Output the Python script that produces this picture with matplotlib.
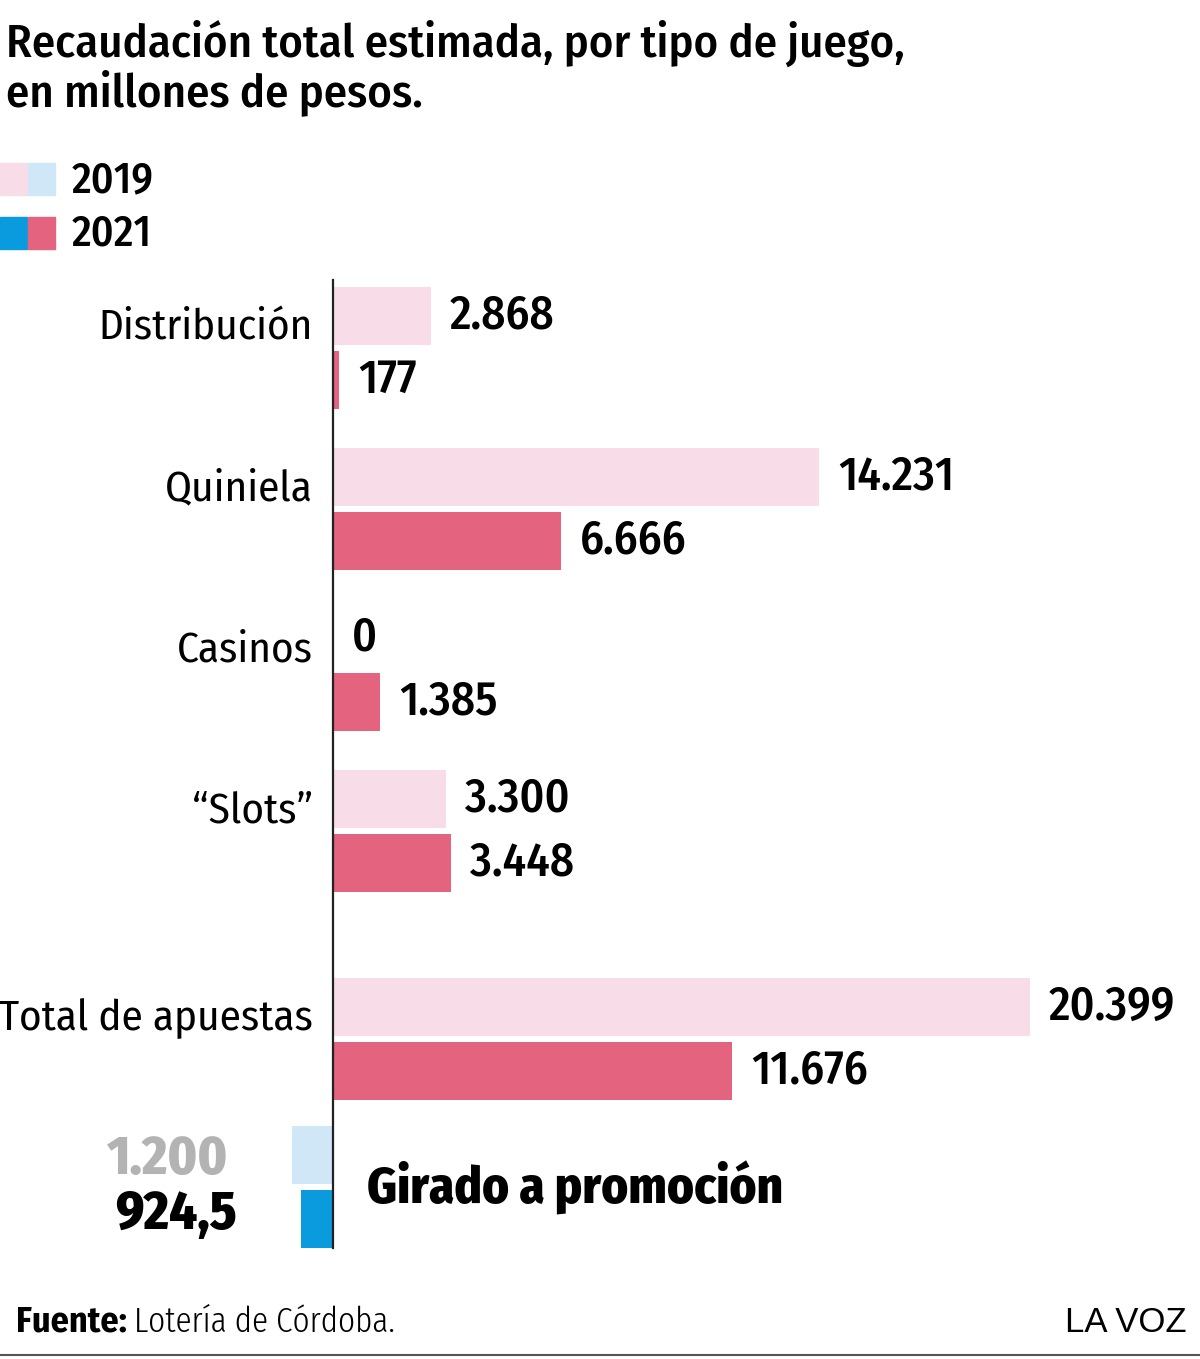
import matplotlib
matplotlib.use("Agg")
import matplotlib.pyplot as plt
from matplotlib.patches import Rectangle

W, H = 1200, 1359
FONT = ["Fira Sans Condensed", "DejaVu Sans"]
plt.rcParams["font.family"] = FONT

PINK_LIGHT, PINK = "#f8dde9", "#e4637f"
BLUE_LIGHT, BLUE = "#cfe7f7", "#0a9ade"

categories = ["Distribución", "Quiniela", "Casinos", "\u201cSlots\u201d", "Total de apuestas"]
vals_2019 = [2868, 14231, 0, 3300, 20399]
vals_2021 = [177, 6666, 1385, 3448, 11676]
labels_2019 = ["2.868", "14.231", "0", "3.300", "20.399"]
labels_2021 = ["177", "6.666", "1.385", "3.448", "11.676"]
promo_vals = [1200, 924.5]
promo_labels = ["1.200", "924,5"]

# layout (pixels)
AXIS_X = 333
SCALE = 697 / 20399          # px per million
group_y = [348, 509, 670, 831, 1039]
promo_y = 1187
OFF = 32
BH = 58

fig = plt.figure(figsize=(W / 100, H / 100), dpi=100)
ax = fig.add_axes([0, 0, 1, 1])
ax.set_xlim(-AXIS_X / SCALE, (W - AXIS_X) / SCALE)
ax.set_ylim(H, 0)
ax.axis("off")

def px(x, y):
    return x / W, 1 - y / H

y19 = [g - OFF for g in group_y]
y21 = [g + OFF for g in group_y]
ax.barh(y19, vals_2019, height=BH, color=PINK_LIGHT)
ax.barh(y21, vals_2021, height=BH, color=PINK)
ax.barh(promo_y - OFF, -promo_vals[0], height=BH, color=BLUE_LIGHT)
ax.barh(promo_y + OFF, -promo_vals[1], height=BH, color=BLUE)
ax.plot([0, 0], [280, 1248], color="#222222", lw=1.6)

pad = 19 / SCALE
for y, v, t in zip(y19, vals_2019, labels_2019):
    ax.text(v + pad, y, t, fontsize=34, fontweight=500, va="center", ha="left")
for y, v, t in zip(y21, vals_2021, labels_2021):
    ax.text(v + pad, y, t, fontsize=34, fontweight=500, va="center", ha="left")
for g, c in zip(group_y, categories):
    ax.text(-20 / SCALE, g - 20, c, fontsize=31, va="center", ha="right")

fig.text(*px(228, 1160), promo_labels[0], fontsize=39, fontweight=800, color="#b3b3b3", ha="right", va="center")
fig.text(*px(237, 1215), promo_labels[1], fontsize=39, fontweight=800, color="black", ha="right", va="center")
fig.text(*px(367, 1188), "Girado a promoción", fontsize=36.5, fontweight=800, ha="left", va="center")

# title
fig.text(*px(6, 43), "Recaudación total estimada, por tipo de juego,", fontsize=33.5, fontweight=500, ha="left", va="center")
fig.text(*px(6, 93), "en millones de pesos.", fontsize=33.5, fontweight=500, ha="left", va="center")

# legend
for (y, c1, c2, lab) in [(163, PINK_LIGHT, BLUE_LIGHT, "2019"), (217, BLUE, PINK, "2021")]:
    fig.patches.append(Rectangle(px(0, y + 32), 27 / W, 32 / H, color=c1, transform=fig.transFigure))
    fig.patches.append(Rectangle(px(28, y + 32), 27 / W, 32 / H, color=c2, transform=fig.transFigure))
    fig.text(*px(72, y + 17), lab, fontsize=31, fontweight=500, ha="left", va="center")

# footer
fig.text(*px(16, 1322), "Fuente:", fontsize=26, fontweight=700, ha="left", va="center")
fig.text(*px(134, 1322), "Lotería de Córdoba.", fontsize=26, fontweight=300,
         family=["Fira Sans Extra Condensed", "DejaVu Sans"], ha="left", va="center")
fig.text(*px(1187, 1322), "LA VOZ", fontsize=25, family=["Liberation Sans", "DejaVu Sans"],
         ha="right", va="center")
fig.add_artist(plt.Line2D([0, 1], [1 - 1355 / H] * 2, color="#555555", lw=1.5))

fig.savefig("out.png", dpi=100)
